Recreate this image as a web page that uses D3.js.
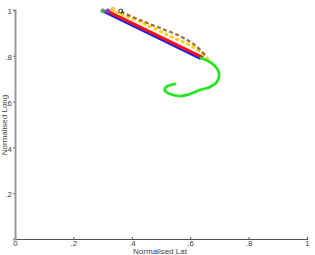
<!DOCTYPE html>
<html><head><meta charset="utf-8">
<script src="https://cdn.jsdelivr.net/npm/d3@7"></script>
<style>body{margin:0;background:#fff}</style>
</head><body>
<svg id="c" width="315" height="255"></svg>
<script>
const xTicks = [0, 0.2, 0.4, 0.6, 0.8, 1];
const yTicks = [0.2, 0.4, 0.6, 0.8, 1];
const xTickLabels = ["0", ".2", ".4", ".6", ".8", "1"];
const yTickLabels = [".2", ".4", ".6", ".8", "1"];
const blueLine = [[0.301, 0.996], [0.637, 0.788]];
const redLine = [[0.315, 0.996], [0.644, 0.792]];
const yellowLine = [[0.342, 0.991], [0.428, 0.948], [0.531, 0.886], [0.616, 0.834], [0.658, 0.790], [0.668, 0.779]];
const brownLine = [[0.363, 0.992], [0.428, 0.956], [0.497, 0.921], [0.565, 0.886], [0.616, 0.847], [0.651, 0.803]];
const greenLine = [[0.637, 0.790], [0.668, 0.773], [0.685, 0.755], [0.695, 0.738], [0.699, 0.716], [0.692, 0.686], [0.668, 0.664], [0.634, 0.651], [0.589, 0.629], [0.565, 0.624], [0.531, 0.633], [0.514, 0.646], [0.514, 0.659], [0.524, 0.668], [0.548, 0.677]];
const startMarkers = [
  {p: [0.301, 0.996], c: "#6a9a6a", f: "#6a9a6a"},
  {p: [0.318, 0.996], c: "#8844aa", f: "#8844aa"},
  {p: [0.335, 1.003], c: "#ffaa33", f: "#ffcc66"},
  {p: [0.362, 0.995], c: "#222", f: "none"}
];

const svg = d3.select("#c");
const x = d3.scaleLinear().domain([0, 1]).range([15, 307]);
const y = d3.scaleLinear().domain([0, 1]).range([239, 10]);
const font = "Liberation Sans, Arial";

const xAxis = d3.axisBottom(x).tickValues(xTicks).tickFormat((d, i) => xTickLabels[i]).tickSize(-2).tickPadding(1);
const yAxis = d3.axisLeft(y).tickValues(yTicks).tickFormat((d, i) => yTickLabels[i]).tickSize(2).tickPadding(1);

const gx = svg.append("g").attr("transform", "translate(0,239)").call(xAxis);
gx.select(".domain").attr("stroke", "#555").attr("stroke-width", 1.2);
gx.selectAll(".tick line").attr("stroke", "#555");
gx.selectAll(".tick text").attr("font-family", font).attr("font-size", 8).attr("fill", "#444");
gx.selectAll(".tick").filter(d => d === 0).select("line").remove();

const gy = svg.append("g").attr("transform", "translate(15,0)").call(yAxis);
gy.select(".domain").attr("stroke", "#999").attr("stroke-width", 2);
gy.selectAll(".tick line").attr("stroke", "#777");
gy.selectAll(".tick text").attr("font-family", font).attr("font-size", 8).attr("fill", "#444").attr("dy", "0.45em");

svg.append("text").attr("x", 160).attr("y", 254).attr("text-anchor", "middle")
  .attr("font-family", font).attr("font-size", 8).attr("fill", "#444").text("Normalised Lat");
svg.append("text").attr("transform", "translate(7,125) rotate(-90)").attr("text-anchor", "middle")
  .attr("font-family", font).attr("font-size", 8).attr("fill", "#444").text("Normalised Long");

const line = d3.line().x(d => x(d[0])).y(d => y(d[1]));
const curve = d3.line().x(d => x(d[0])).y(d => y(d[1])).curve(d3.curveCatmullRom);

svg.append("path").attr("d", line(blueLine)).attr("fill", "none").attr("stroke", "#2020ee").attr("stroke-width", 3.2);
svg.append("path").attr("d", line(redLine)).attr("fill", "none").attr("stroke", "#ff1010").attr("stroke-width", 3);
svg.append("path").attr("d", curve(yellowLine)).attr("fill", "none").attr("stroke", "#ffd000").attr("stroke-width", 2.6).attr("stroke-dasharray", "4,2");
svg.append("path").attr("d", curve(brownLine)).attr("fill", "none").attr("stroke", "#9a7040").attr("stroke-width", 2.2).attr("stroke-dasharray", "4,2.5");
svg.append("path").attr("d", curve(greenLine)).attr("fill", "none").attr("stroke", "#22e622").attr("stroke-width", 2.8).attr("stroke-linecap", "round");

svg.selectAll("circle.m").data(startMarkers).join("circle").attr("class", "m")
  .attr("cx", d => x(d.p[0])).attr("cy", d => y(d.p[1])).attr("r", 2)
  .attr("stroke", d => d.c).attr("fill", d => d.f).attr("stroke-width", 1);
</script>
</body></html>
